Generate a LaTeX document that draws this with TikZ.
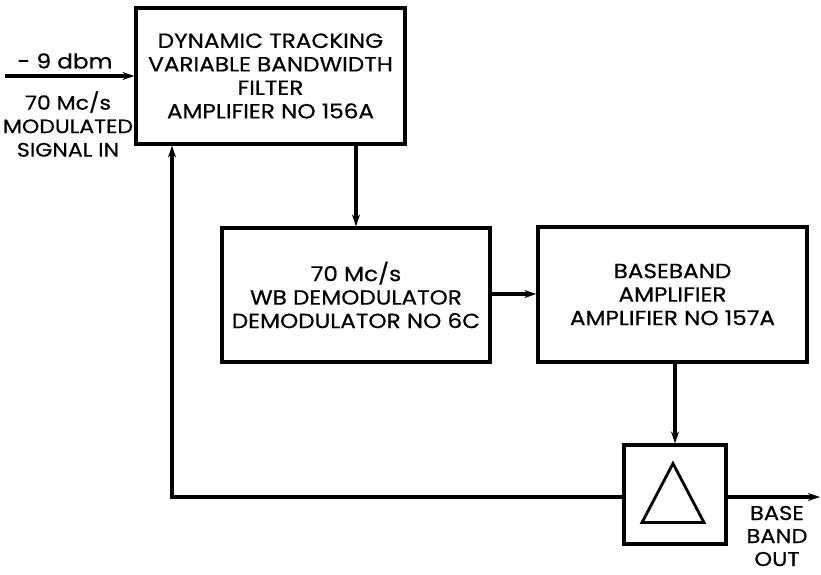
\documentclass[tikz,border=0pt]{standalone}
\usepackage{fontspec}
\setmainfont{Poppins}[FakeStretch=1.13, FakeBold=0.5]
\usepackage{tikz}
\usetikzlibrary{arrows,arrows.meta}
\tikzset{>={Stealth[length=12pt,width=8pt]}}
\tikzset{
  block/.style={draw, line width=3.2pt, align=center, inner sep=0pt},
  link/.style={->, line width=3.2pt},
  lbl/.style={align=center, inner sep=0pt}
}

\begin{document}
\begin{tikzpicture}[x=1pt, y=-1pt, font=\fontsize{20.5}{23.5}\selectfont]
    \useasboundingbox (0,0) rectangle (821,574);
    % Draw the blocks
    \node[block, minimum width=269pt, minimum height=136pt] (filter) at (270.5,76) {DYNAMIC TRACKING\\VARIABLE BANDWIDTH\\FILTER\\AMPLIFIER NO 156A};
    \node[block, minimum width=268pt, minimum height=134pt] (demod) at (356,295) {70 Mc/s\\WB DEMODULATOR\\DEMODULATOR NO 6C};
    \node[block, minimum width=269pt, minimum height=135pt] (bbamp) at (672.5,294.5) {BASEBAND\\AMPLIFIER\\AMPLIFIER NO 157A};
    \node[block, minimum width=102pt, minimum height=99pt] (amp) at (675,494.5) {};
    \draw[line width=2.8pt, line join=miter] ([xshift=-2pt,yshift=31pt]amp.center) -- ([xshift=29pt,yshift=-28pt]amp.center) -- ([xshift=-33pt,yshift=-28pt]amp.center) -- cycle; % Triangle

    % Input signal
    \coordinate (in) at (5,76);
    \draw[link] (in) -- (filter.west);
    \node[lbl] (level) at (65,61) {- 9 dbm};
    \node[lbl, font=\fontsize{19.5}{23.5}\selectfont] (sigin) at (68,124) {70 Mc/s\\MODULATED\\SIGNAL IN};

    % Signal path
    \draw[link] (filter.south -| demod.north) -- (demod.north);
    \draw[link] (demod.east |- 0,294) -- (bbamp.west |- 0,294);
    \draw[link] (bbamp.south -| amp.north) -- (amp.north);

    % Feedback loop and output
    \coordinate (fb) at (172,497);
    \draw[link] (amp.west |- fb) -- (fb) -- (filter.south -| fb);
    \coordinate (out) at (820,497);
    \draw[link] (amp.east |- out) -- (out);
    \node[lbl, font=\fontsize{20}{23}\selectfont] (bbout) at (777,536) {BASE\\BAND\\OUT};
\end{tikzpicture}
\end{document}
